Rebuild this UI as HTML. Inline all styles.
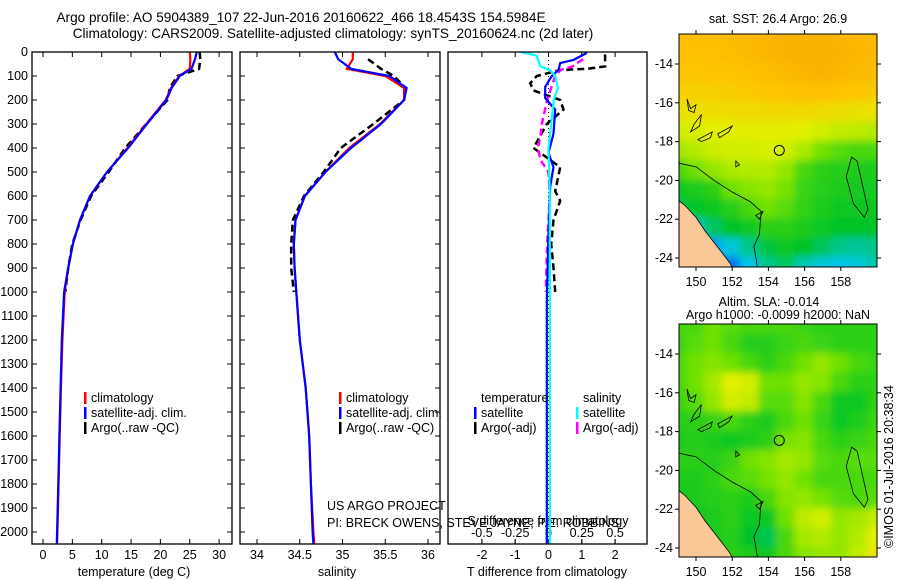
<!DOCTYPE html>
<html><head><meta charset="utf-8"><style>
html,body{margin:0;padding:0;background:#fff;}
svg{display:block;font-family:"Liberation Sans",sans-serif;}
text{font-size:12.5px;fill:#000;}
text.title{font-size:13.6px;}
</style></head><body>
<svg id="fig" width="900" height="580" viewBox="0 0 900 580" xmlns="http://www.w3.org/2000/svg">
<defs>
<clipPath id="c1"><rect x="32" y="52" width="200" height="492"/></clipPath>
<clipPath id="c2"><rect x="240" y="52" width="200" height="492"/></clipPath>
<clipPath id="c3"><rect x="448" y="52" width="199" height="492"/></clipPath>
<clipPath id="m1"><rect x="679" y="34" width="198" height="233"/></clipPath>
<clipPath id="m2"><rect x="679" y="324" width="198" height="233"/></clipPath>
<filter id="bl" x="-5%" y="-5%" width="110%" height="110%"><feGaussianBlur stdDeviation="4"/></filter>
</defs>
<text class="title" x="301" y="22" text-anchor="middle">Argo profile: AO 5904389_107 22-Jun-2016 20160622_466 18.4543S 154.5984E</text>
<text class="title" x="333" y="38" text-anchor="middle">Climatology: CARS2009. Satellite-adjusted climatology: synTS_20160624.nc (2d later)</text>
<g id="g1"></g>
<g id="g2"></g>
<g id="g3"></g>
<g id="map1"></g>
<g id="map2"></g>
<text transform="translate(893,548) rotate(-90)">©IMOS 01-Jul-2016 20:38:34</text>
</svg>
<script>
// ---- data ----
const depthTicks=[0,100,200,300,400,500,600,700,800,900,1000,1100,1200,1300,1400,1500,1600,1700,1800,1900,2000];
const tempTicks=[0,5,10,15,20,25,30];
const salTicks=[34,34.5,35,35.5,36];
const tdTicks=[-2,-1,0,1,2];
const sdTicks=[-0.5,-0.25,0,0.25,0.5];
const sdTickLabels=["-0.5","-0.25","0","0.25","0.5"];
const profDepth=[0,30,70,100,150,200,300,400,500,600,700,800,900,1000,1200,1400,1600,1800,2000,2050];
const tempClim=[25.0,25.1,25.0,23.2,21.8,20.9,17.6,14.4,10.9,8.0,6.3,5.1,4.3,3.7,3.3,3.05,2.85,2.65,2.45,2.4];
const tempSat=[26.2,25.9,25.3,23.3,21.9,21.0,17.7,14.5,10.9,8.0,6.3,5.1,4.3,3.6,3.2,3.0,2.8,2.6,2.4,2.35];
const argoDepth=[0,30,70,100,150,200,300,400,500,600,700,800,900,1000];
const tempArgo=[26.7,26.8,26.6,22.9,21.6,21.2,17.6,14.0,11.2,8.2,6.4,5.0,4.3,3.8];
const salClim=[35.12,35.12,35.05,35.5,35.72,35.72,35.44,35.08,34.8,34.56,34.45,34.43,34.44,34.46,34.5,34.57,34.61,34.63,34.66,34.67];
const salSat=[34.91,34.95,35.1,35.55,35.75,35.72,35.45,35.1,34.8,34.56,34.45,34.43,34.44,34.46,34.5,34.57,34.61,34.63,34.65,34.66];
const salArgo=[null,35.3,35.45,35.6,35.74,35.72,35.36,34.98,34.78,34.55,34.42,34.40,34.40,34.43];
const tdDepth=[4,33,46,75,100,145,192,240,340,420,480,560,755,1033,2050];
const tdSat=[1.15,0.75,0.35,0.3,0.1,-0.1,-0.1,0.2,0.15,0.0,0.15,0.05,0.0,-0.05,-0.05];
const tdArgoDepth=[10,60,70,75,100,130,160,200,240,300,350,400,480,580,620,700,800,900,1000];
const tdArgo=[1.7,1.7,1.15,0.35,-0.35,-0.55,-0.45,0.35,0.45,-0.05,-0.25,-0.45,0.35,0.2,0.35,0.15,0.08,0.15,0.2];
const sdDepth=[0,15,60,75,100,150,200,300,400,600,800,2050];
const sdSat=[-0.21,-0.09,-0.06,0.01,0.05,0.07,0.04,0.02,0.0,0.01,0.01,0.01];
const sdArgoDepth=[30,60,75,100,150,200,300,350,400,450,500,600,800,1000];
const sdArgo=[0.26,0.18,0.09,0.05,0.02,-0.01,-0.05,-0.06,-0.08,-0.06,0,0.01,-0.01,-0.02];
const lonTicks=[150,152,154,156,158];
const latTicks=[-14,-16,-18,-20,-22,-24];
const gridLats=[-12.5,-13.5,-14.5,-15.5,-16.5,-17.5,-18.5,-19.5,-20.5,-21.5,-22.5,-23.5,-24.5];
const gridLons=[149,150,151,152,153,154,155,156,157,158,159,160];
const sstGrid=[
[0.86,0.87,0.87,0.88,0.88,0.89,0.9,0.9,0.9,0.89,0.88,0.88],
[0.85,0.86,0.86,0.87,0.88,0.89,0.9,0.91,0.91,0.9,0.89,0.88],
[0.84,0.84,0.85,0.85,0.86,0.87,0.88,0.89,0.9,0.89,0.88,0.87],
[0.8,0.8,0.81,0.82,0.83,0.84,0.85,0.86,0.86,0.85,0.84,0.83],
[0.74,0.75,0.76,0.77,0.77,0.78,0.78,0.78,0.77,0.76,0.75,0.75],
[0.68,0.69,0.7,0.71,0.71,0.71,0.71,0.7,0.68,0.66,0.65,0.64],
[0.62,0.64,0.67,0.68,0.68,0.69,0.68,0.63,0.56,0.52,0.5,0.5],
[0.5,0.55,0.6,0.63,0.64,0.64,0.6,0.5,0.46,0.45,0.44,0.44],
[0.42,0.44,0.46,0.55,0.58,0.6,0.56,0.48,0.45,0.44,0.43,0.43],
[0.35,0.4,0.42,0.45,0.5,0.55,0.52,0.47,0.44,0.42,0.42,0.42],
[0.2,0.25,0.34,0.4,0.42,0.46,0.46,0.44,0.42,0.4,0.4,0.4],
[0.05,0.1,0.15,0.22,0.3,0.38,0.42,0.4,0.35,0.3,0.28,0.3],
[0.0,0.0,0.04,0.08,0.2,0.3,0.34,0.26,0.22,0.2,0.22,0.26]];
const slaGrid=[
[0.5,0.5,0.55,0.52,0.5,0.5,0.5,0.48,0.46,0.46,0.46,0.46],
[0.48,0.52,0.55,0.5,0.45,0.45,0.48,0.5,0.48,0.46,0.46,0.46],
[0.5,0.55,0.58,0.55,0.5,0.46,0.5,0.55,0.6,0.55,0.5,0.48],
[0.5,0.55,0.62,0.7,0.68,0.55,0.55,0.6,0.58,0.5,0.46,0.46],
[0.48,0.52,0.6,0.68,0.66,0.52,0.52,0.58,0.5,0.42,0.42,0.46],
[0.45,0.46,0.48,0.5,0.46,0.44,0.5,0.55,0.48,0.42,0.44,0.48],
[0.44,0.45,0.44,0.42,0.44,0.46,0.56,0.58,0.5,0.46,0.48,0.5],
[0.46,0.46,0.45,0.48,0.55,0.58,0.62,0.6,0.52,0.5,0.52,0.52],
[0.44,0.44,0.46,0.5,0.52,0.56,0.6,0.55,0.5,0.5,0.5,0.5],
[0.42,0.44,0.45,0.46,0.44,0.5,0.58,0.6,0.56,0.52,0.5,0.52],
[0.42,0.42,0.44,0.46,0.42,0.42,0.55,0.65,0.68,0.6,0.62,0.66],
[0.42,0.42,0.44,0.45,0.4,0.36,0.5,0.62,0.64,0.6,0.64,0.7],
[0.44,0.44,0.45,0.46,0.44,0.42,0.5,0.58,0.6,0.6,0.66,0.74]];
const landLon=[149.0,149.4,150.0,150.5,151.0,151.5,151.9,152.0,149.0];
const landLat=[-21.0,-21.3,-21.9,-22.6,-23.2,-23.8,-24.3,-24.5,-24.5];
const reefLon=[149.0,150.0,151.0,152.0,153.0,153.6,153.5,153.2,153.4];
const reefLat=[-19.1,-19.3,-20.0,-20.6,-21.1,-21.6,-22.8,-23.4,-24.5];
const argoLon=154.6, argoLat=-18.45;

// ---- helpers ----
const NS="http://www.w3.org/2000/svg";
function mk(tag,at,parent){const e=document.createElementNS(NS,tag);for(const k in at)e.setAttribute(k,at[k]);parent.appendChild(e);return e;}
const yD=d=>52+d*0.24;
function line(g,xs,ds,xf,color,w,dash,name){
  let p="";let started=false;
  for(let i=0;i<xs.length;i++){if(xs[i]===null){continue;}p+=(started?"L":"M")+xf(xs[i]).toFixed(1)+","+yD(ds[i]).toFixed(1);started=true;}
  const e=mk("path",{d:p,fill:"none",stroke:color,"stroke-width":w},g);
  if(dash)e.setAttribute("stroke-dasharray",dash);
  
  
  return e;
}
function frame(g,x0,x1){
  const r=mk("rect",{x:x0,y:52,width:x1-x0,height:492,fill:"none",stroke:"#000","stroke-width":1.3},g);
  
  
}
function xticks(g,ticks,labels,xf,yTop,yBot,labY,name){
  ticks.forEach((t,i)=>{
    const x=xf(t);
    mk("line",{x1:x,x2:x,y1:yTop,y2:yTop+5,stroke:"#000"},g);
    mk("line",{x1:x,x2:x,y1:yBot,y2:yBot-5,stroke:"#000"},g);
    const tx=mk("text",{x:x,y:labY,"text-anchor":"middle"},g);tx.textContent=labels[i];
    
    
  });
}
function legend(g,x,y,color,label){
  const m=mk("rect",{x:x,y:y-10,width:2.5,height:12,fill:color},g);
  
  
  const t=mk("text",{x:x+7,y:y},g);t.textContent=label;
  
  
}
function text(g,x,y,s,name,anchor){const t=mk("text",{x:x,y:y,"text-anchor":anchor||"start"},g);t.textContent=s;
  
  return t;}

// ---- panel 1: temperature ----
const g1=document.getElementById("g1");
const xT=v=>43+v*5.87;
depthTicks.forEach(d=>{const y=yD(d);mk("line",{x1:32,x2:37,y1:y,y2:y,stroke:"#000"},g1);mk("line",{x1:232,x2:227,y1:y,y2:y,stroke:"#000"},g1);
  text(g1,28,y+4,String(d),'depth-tick-label','end');});
xticks(g1,tempTicks,tempTicks.map(String),xT,52,544,559,'temperature-tick-label');
text(g1,134,576,"temperature (deg C)",'x-axis-title','middle');
const c1=mk("g",{"clip-path":"url(#c1)"},g1);
line(c1,tempArgo,argoDepth,xT,"#000",2.5,"7,4",'argo-temperature-line');
line(c1,tempClim,profDepth,xT,"#f00",2.2,null,'climatology-temperature-line');
line(c1,tempSat,profDepth,xT,"#00f",2.2,null,'satellite-temperature-line');
frame(g1,32,232);
legend(g1,84,402,"#f00","climatology");
legend(g1,84,417,"#00f","satellite-adj. clim.");
legend(g1,84,432,"#000","Argo(..raw -QC)");

// ---- panel 2: salinity ----
const g2=document.getElementById("g2");
const xS=v=>257+(v-34)*85.5;
depthTicks.forEach(d=>{const y=yD(d);mk("line",{x1:240,x2:245,y1:y,y2:y,stroke:"#000"},g2);mk("line",{x1:440,x2:435,y1:y,y2:y,stroke:"#000"},g2);});
xticks(g2,salTicks,salTicks.map(String),xS,52,544,559,'salinity-tick-label');
text(g2,337,576,"salinity",'x-axis-title','middle');
const c2=mk("g",{"clip-path":"url(#c2)"},g2);
line(c2,salArgo,argoDepth,xS,"#000",2.5,"7,4",'argo-salinity-line');
line(c2,salClim,profDepth,xS,"#f00",2.2,null,'climatology-salinity-line');
line(c2,salSat,profDepth,xS,"#00f",2.2,null,'satellite-salinity-line');
frame(g2,240,440);
legend(g2,339,402,"#f00","climatology");
legend(g2,339,417,"#00f","satellite-adj. clim.");
legend(g2,339,432,"#000","Argo(..raw -QC)");
text(g2,327,510,"US ARGO PROJECT",'credit-line-1');
text(g2,327,527,"PI: BRECK OWENS, STEVE JAYNE, P.E. ROBBINS",'credit-line-2');

// ---- panel 3: differences ----
const g3=document.getElementById("g3");
const xTD=v=>548.5+v*33.3;
const xSD=v=>548.5+v*133.2;
tdTicks.forEach(t=>{const x=xTD(t);mk("line",{x1:x,x2:x,y1:52,y2:57,stroke:"#000"},g3);mk("line",{x1:x,x2:x,y1:544,y2:539,stroke:"#000"},g3);
  text(g3,x,559,String(t),'t-diff-tick-label','middle');});
sdTicks.forEach((t,i)=>{const x=xSD(t);mk("line",{x1:x,x2:x,y1:544,y2:539,stroke:"#000"},g3);
  text(g3,x,537,sdTickLabels[i],'s-diff-tick-label','middle');});
text(g3,548,525,"S difference from climatology",'s-diff-axis-title','middle');
text(g3,547,576,"T difference from climatology",'x-axis-title','middle');
mk("line",{x1:548.5,x2:548.5,y1:52,y2:544,stroke:"#000","stroke-dasharray":"1,3"},g3);
const c3=mk("g",{"clip-path":"url(#c3)"},g3);
line(c3,tdArgo,tdArgoDepth,xTD,"#000",2.5,"7,4",'argo-t-diff-line');
line(c3,sdArgo,sdArgoDepth,xSD,"#f0f",2.5,"7,4",'argo-s-diff-line');
line(c3,tdSat,tdDepth,xTD,"#00f",2.2,null,'satellite-t-diff-line');
line(c3,sdSat,sdDepth,xSD,"#0ff",2.2,null,'satellite-s-diff-line');
mk("rect",{x:448,y:52,width:199,height:492,fill:"none",stroke:"#000","stroke-width":1.3},g3);
text(g3,481,402,"temperature",'legend-title-temperature');
text(g3,583,402,"salinity",'legend-title-salinity');
legend(g3,474,417,"#00f","satellite");
legend(g3,474,432,"#000","Argo(-adj)");
legend(g3,576,417,"#0ff","satellite");
legend(g3,576,432,"#f0f","Argo(-adj)");

// ---- maps ----
function cmap(v){
  const st=[[0,[0,60,255]],[0.2,[0,200,235]],[0.4,[0,195,40]],[0.55,[110,225,0]],[0.7,[225,240,0]],[0.85,[255,195,0]],[1,[240,150,0]]];
  for(let i=1;i<st.length;i++){if(v<=st[i][0]){const a=st[i-1],b=st[i],f=(v-a[0])/(b[0]-a[0]);
    return "rgb("+a[1].map((c,j)=>Math.round(c+(b[1][j]-c)*f)).join(",")+")";}}
  return "rgb(240,150,0)";
}
function drawMap(id,y0,grid,clip,title1,title2){
  const g=document.getElementById(id);
  const X=lon=>696+(lon-150)*18.1;
  const Y=lat=>y0+30+(-14-lat)*19.4;
  const cg=mk("g",{"clip-path":"url(#"+clip+")"},g);
  const hg=mk("g",{filter:"url(#bl)"},cg);
  grid.forEach((row,i)=>row.forEach((v,j)=>{
    const r=mk("rect",{x:X(gridLons[j]-0.5)-1,y:Y(gridLats[i]+0.5)-1,width:20,height:21.4,fill:cmap(v)},hg);
    
    
  }));
  const land=mk("polygon",{points:landLon.map((l,i)=>X(l)+","+Y(landLat[i])).join(" "),fill:"#f9c896",stroke:"#000","stroke-width":0.8},cg);
  
  
  const reef=mk("polyline",{points:reefLon.map((l,i)=>X(l)+","+Y(reefLat[i])).join(" "),fill:"none",stroke:"#000","stroke-width":0.8},cg);
  
  
  const islands=[[[149.5,-15.8],[149.7,-16.3],[150.0,-16.1],[149.9,-16.5],[149.6,-16.4]],[[149.9,-17.1],[150.3,-16.6],[150.2,-17.2],[149.7,-17.5]],[[150.1,-17.9],[150.9,-17.5],[150.8,-17.8],[150.3,-18.0]],[[151.2,-17.6],[152.0,-17.2],[151.8,-17.5],[151.3,-17.8]],[[152.2,-19.0],[152.4,-19.2],[152.2,-19.3]],[[153.3,-21.8],[153.7,-21.6],[153.5,-22.0]],[[158.6,-18.8],[158.9,-19.0],[159.5,-21.5],[159.3,-21.9],[158.7,-21.2],[158.3,-19.8]]];
  islands.forEach(pts=>{const p=mk("polygon",{points:pts.map(q=>X(q[0])+","+Y(q[1])).join(" "),fill:"none",stroke:"#000","stroke-width":0.8},cg);
    
    });
  const ac=mk("circle",{cx:X(argoLon),cy:Y(argoLat),r:5,fill:"none",stroke:"#000","stroke-width":1},cg);
  
  
  const fr=mk("rect",{x:679,y:y0,width:198,height:233,fill:"none",stroke:"#000","stroke-width":1},g);
  
  
  lonTicks.forEach(l=>{const x=X(l);mk("line",{x1:x,x2:x,y1:y0,y2:y0-4,stroke:"#000"},g);mk("line",{x1:x,x2:x,y1:y0+233,y2:y0+237,stroke:"#000"},g);
    text(g,x,y0+252,String(l),'longitude-tick-label','middle');});
  latTicks.forEach(l=>{const y=Y(l);mk("line",{x1:679,x2:675,y1:y,y2:y,stroke:"#000"},g);mk("line",{x1:877,x2:881,y1:y,y2:y,stroke:"#000"},g);
    text(g,673,y+4,String(l),'latitude-tick-label','end');});
  if(title2){text(g,769,y0-18,title1,'map-title','middle');text(g,778,y0-5,title2,'map-subtitle','middle');}
  else text(g,778,y0-11,title1,'map-title','middle');
}
drawMap("map1",34,sstGrid,"m1","sat. SST: 26.4  Argo: 26.9");
drawMap("map2",324,slaGrid,"m2","Altim. SLA: -0.014","Argo h1000: -0.0099 h2000: NaN");
</script>
</body></html>
